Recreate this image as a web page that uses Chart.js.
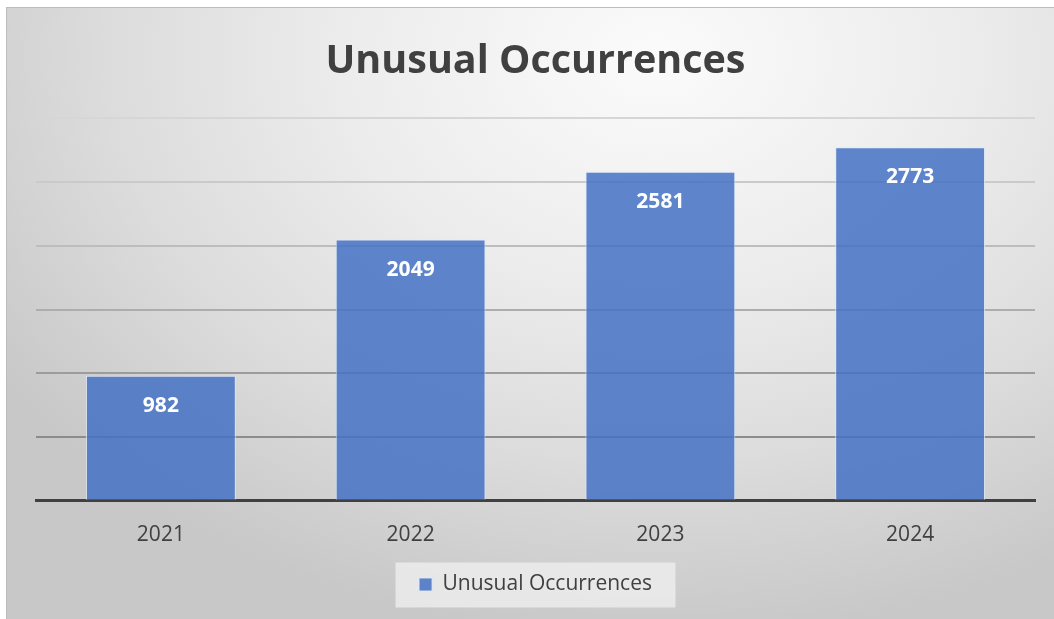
<!DOCTYPE html>
<html>
<head>
<meta charset="utf-8">
<script src="https://cdn.jsdelivr.net/npm/chart.js@4.4.1/dist/chart.umd.min.js"></script>
<style>
    html, body { margin: 0; padding: 0; background: #ffffff; }
    .marco {
        position: absolute;
        left: 6px; top: 7px;
        width: 1048px; height: 612px;
        border-top: 1px solid #bdbdbd;
        border-left: 1px solid #bdbdbd;
        box-sizing: border-box;
        background: radial-gradient(ellipse 75% 95% at 62% 8%, #fbfbfb 0%, #ececec 40%, #dcdcdc 70%, #c8c8c8 100%);
    }
    canvas { display: block; }
</style>
</head>
<body>
<div class="marco">
    <canvas id="grafica" width="1047" height="611"></canvas>
</div>
<script>
const categorias = ['2021', '2022', '2023', '2024'];
const valores = [982, 2049, 2581, 2773];
const nombreSerie = 'Unusual Occurrences';
const titulo = 'Unusual Occurrences';

// Colores de las líneas de la cuadrícula (más oscuras hacia abajo)
const coloresGrid = {
    500: '#8c8c8c', 1000: '#9c9c9c', 1500: '#adadad',
    2000: '#bdbdbd', 2500: '#cacaca', 3000: '#d6d6d6'
};

// Etiquetas blancas dentro de cada barra
const etiquetasBarras = {
    id: 'etiquetasBarras',
    afterDatasetsDraw(chart) {
        const ctx = chart.ctx;
        const meta = chart.getDatasetMeta(0);
        ctx.save();
        ctx.fillStyle = '#ffffff';
        ctx.font = 'bold 21px "Open Sans"';
        ctx.textAlign = 'center';
        ctx.textBaseline = 'middle';
        meta.data.forEach((bar, i) => {
            ctx.fillText(chart.data.datasets[0].data[i], bar.x, bar.y + 30);
        });
        ctx.restore();
    }
};

// Fondo claro detrás de la leyenda
const fondoLeyenda = {
    id: 'fondoLeyenda',
    beforeDraw(chart) {
        const lg = chart.legend;
        if (!lg || !lg.legendHitBoxes.length) return;
        const hb = lg.legendHitBoxes[0];
        const ctx = chart.ctx;
        const cx = hb.left + hb.width / 2;
        const cy = hb.top + hb.height / 2;
        ctx.save();
        ctx.fillStyle = 'rgba(240,240,240,0.75)';
        ctx.fillRect(cx - 140, cy - 22, 280, 45);
        ctx.restore();
    }
};

new Chart(document.getElementById('grafica'), {
    type: 'bar',
    data: {
        labels: categorias,
        datasets: [{
            label: nombreSerie,
            data: valores,
            backgroundColor: 'rgba(68,114,196,0.85)',
            borderColor: 'rgba(225,233,247,0.85)',
            borderWidth: 1,
            borderSkipped: 'bottom',
            categoryPercentage: 1,
            barPercentage: 0.6
        }]
    },
    options: {
        responsive: false,
        animation: false,
        layout: { padding: { left: 29, right: 19, top: 0, bottom: 14 } },
        plugins: {
            title: {
                display: true,
                text: titulo,
                color: '#404040',
                font: { family: '"Open Sans"', size: 39.5, weight: 'bold' },
                padding: { top: 30, bottom: 33 }
            },
            legend: {
                position: 'bottom',
                labels: {
                    color: '#404040',
                    font: { family: '"Open Sans"', size: 21 },
                    boxWidth: 13,
                    boxHeight: 13,
                    padding: 12
                }
            },
            tooltip: { enabled: false }
        },
        scales: {
            x: {
                grid: { display: false },
                border: { display: true, color: '#404040', width: 3 },
                ticks: {
                    color: '#404040',
                    font: { family: '"Open Sans"', size: 21 },
                    padding: 14
                }
            },
            y: {
                min: 0,
                max: 3000,
                ticks: { display: false, stepSize: 500 },
                border: { display: false },
                grid: {
                    drawTicks: false,
                    lineWidth: 2,
                    color: ctx => ctx.tick && ctx.tick.value > 0 ? coloresGrid[ctx.tick.value] : 'rgba(0,0,0,0)'
                }
            }
        }
    },
    plugins: [fondoLeyenda, etiquetasBarras]
});
</script>
</body>
</html>
